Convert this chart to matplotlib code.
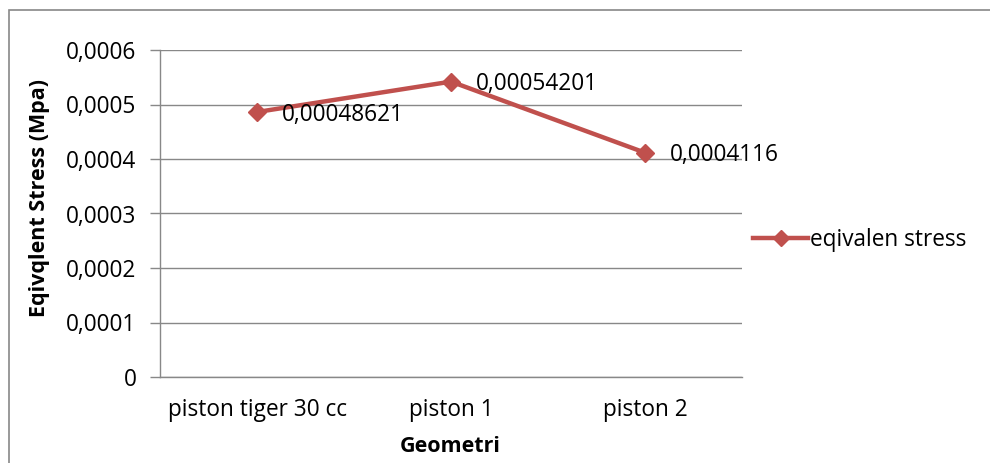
import matplotlib
matplotlib.use("Agg")
import matplotlib.pyplot as plt
from matplotlib.ticker import FuncFormatter, MultipleLocator
from matplotlib.patches import Rectangle
from matplotlib.lines import Line2D

categories = ["piston tiger 30 cc", "piston 1", "piston 2"]
values = [0.00048621, 0.00054201, 0.0004116]
labels = ["0,00048621", "0,00054201", "0,0004116"]
series_name = "eqivalen stress"

plt.rcParams['font.family'] = ['Open Sans', 'DejaVu Sans']
color = "#C0504D"
grid_c = "#888888"
fs = 16.3

fig = plt.figure(figsize=(9.9, 4.63), dpi=100)
ax = fig.add_axes([160/990, 1-377/463, (742-160)/990, (377-50)/463])

x = list(range(len(categories)))
ax.plot(x, values, color=color, lw=3.2, marker='D', ms=9, mec=color, mfc=color,
        solid_capstyle='round')
for xi, v, t in zip(x, values, labels):
    ax.annotate(t, (xi, v), xytext=(18, -2), textcoords='offset points',
                ha='left', va='center', fontsize=fs, color='black')

ax.set_xlim(-0.5, 2.5)
ax.set_ylim(0, 0.0006)
ax.yaxis.set_major_locator(MultipleLocator(0.0001))
ax.yaxis.set_major_formatter(FuncFormatter(lambda v, p: "0" if abs(v) < 1e-12 else f"{v:.4f}".replace('.', ',')))
ax.set_xticks(x)
ax.set_xticklabels(categories)
ax.tick_params(axis='x', length=0, labelsize=fs, pad=15)
ax.tick_params(axis='y', length=7, width=1, color=grid_c, labelsize=fs, pad=10)
ax.grid(axis='y', color=grid_c, lw=1)
ax.set_axisbelow(True)
for s in ['top', 'right']:
    ax.spines[s].set_visible(False)
for s in ['left', 'bottom']:
    ax.spines[s].set_color(grid_c)
    ax.spines[s].set_linewidth(1)

ax.set_ylabel("Eqivqlent Stress (Mpa)", fontsize=15.5, fontweight='bold', va='center')
ax.yaxis.set_label_coords((40-160)/582, (377-198)/327)
ax.set_xlabel("Geometri", fontsize=15.5, fontweight='bold', va='center')
ax.xaxis.set_label_coords((450-160)/582, -(447-377)/327)

handle = Line2D([], [], color=color, lw=3.2, marker='D', ms=8, mfc=color, mec=color)
fig.legend([handle], [series_name], loc='center left', bbox_to_anchor=(733/990, 1-240/463),
           frameon=False, fontsize=fs, handlelength=2.4, handletextpad=0.1)

fig.patches.append(Rectangle((9/990, -0.01), 1.0, 1-10/463+0.01, transform=fig.transFigure,
                             fill=False, edgecolor=grid_c, lw=1.2, clip_on=False))

fig.savefig("out.png", dpi=100)
